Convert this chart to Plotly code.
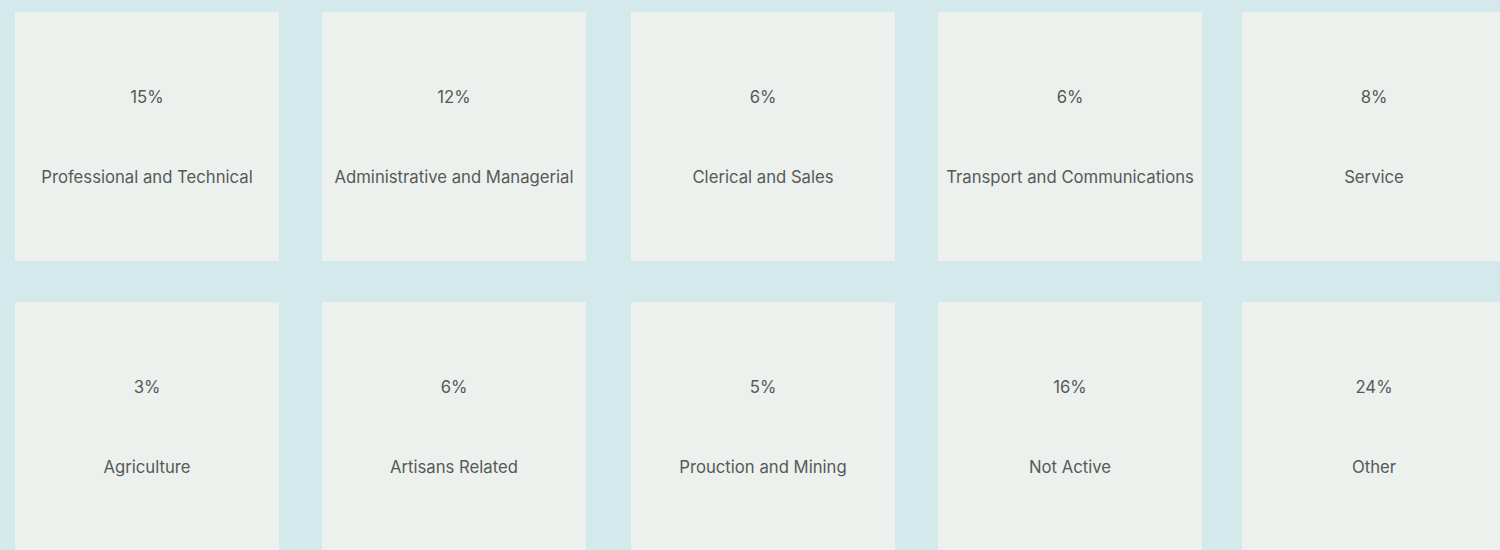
import plotly.graph_objects as go

categories = ["Professional and Technical", "Administrative and Managerial", "Clerical and Sales",
              "Transport and Communications", "Service", "Agriculture", "Artisans Related",
              "Prouction and Mining", "Not Active", "Other"]
values = [15, 12, 6, 6, 8, 3, 6, 5, 16, 24]

BG = "#d4e9ec"
PANEL = "#ecf1ee"
TXT = "#555a58"
FONT = "Inter, Lato, sans-serif"

ncols = 5
col_left = [15, 322, 631, 938, 1242]
row_top = [12, 302]
pw, ph = 264, 249

fig = go.Figure()
shapes = []
xs, ys_v, ys_l, vtxt, ltxt = [], [], [], [], []
for i, (cat, v) in enumerate(zip(categories, values)):
    r, c = divmod(i, ncols)
    x0, y0 = col_left[c], row_top[r]
    shapes.append(dict(type="rect", xref="x", yref="y", x0=x0, x1=x0 + pw, y0=y0, y1=y0 + ph,
                       fillcolor=PANEL, line=dict(width=0), layer="below"))
    cx, cy = x0 + pw / 2, y0 + ph / 2
    xs.append(cx)
    ys_v.append(cy - 38)
    ys_l.append(cy + 42)
    vtxt.append(f"{v}%")
    ltxt.append(cat)

fig.add_trace(go.Scatter(x=xs, y=ys_v, text=vtxt, mode="text",
                         textfont=dict(family=FONT, size=16.7, color=TXT), hoverinfo="skip"))
fig.add_trace(go.Scatter(x=xs, y=ys_l, text=ltxt, mode="text",
                         textfont=dict(family=FONT, size=16.7, color=TXT), hoverinfo="skip"))

fig.update_layout(
    width=1500, height=550, margin=dict(l=0, r=0, t=0, b=0),
    paper_bgcolor=BG, plot_bgcolor=BG, showlegend=False, shapes=shapes,
    xaxis=dict(range=[0, 1500], visible=False, fixedrange=True),
    yaxis=dict(range=[550, 0], visible=False, fixedrange=True),
)
fig.write_html("out.html", config={"displayModeBar": False},
               post_script="document.body.style.margin='0';document.body.style.background='#d4e9ec';")
